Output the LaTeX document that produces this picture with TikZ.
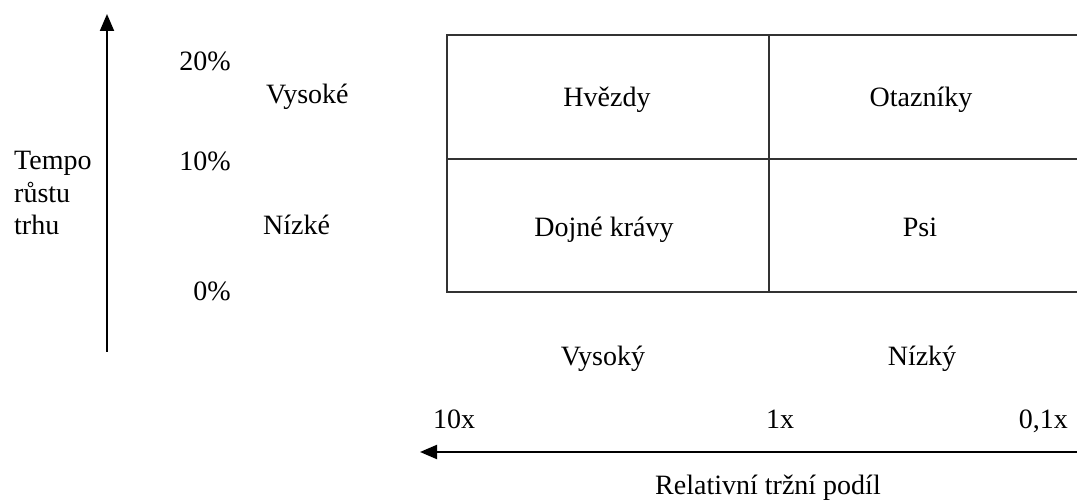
\documentclass[tikz,border=0pt]{standalone}
\usepackage{fontspec}
\setmainfont{Liberation Serif}
\usetikzlibrary{arrows.meta}
\begin{document}
\begin{tikzpicture}[x=1pt,y=-1pt,
  lbl/.style={font=\fontsize{28}{33}\selectfont,inner sep=0pt,anchor=base},
  grid/.style={draw=black!80,line width=1.6pt},
  axis/.style={draw=black,line width=2pt,-{Triangle[length=17pt,width=14pt]}}]
\useasboundingbox (0,0) rectangle (1077,502);
% grid
\coordinate (tl) at (447,35);
\coordinate (tr) at (1077,35);
\coordinate (ml) at (447,159);
\coordinate (mr) at (1077,159);
\coordinate (bl) at (447,292);
\coordinate (br) at (1077,292);
\coordinate (vt) at (769,35);
\coordinate (vb) at (769,292);
\draw[grid] (tr) -- (tl) -- (bl) -- (br);
\draw[grid] (ml) -- (mr);
\draw[grid] (vt) -- (vb);
% axes
\coordinate (ya) at (107,352);
\coordinate (yb) at (107,14);
\draw[axis] (ya) -- (yb);
\coordinate (xa) at (1077,452);
\coordinate (xb) at (420,452);
\draw[axis] (xa) -- (xb);
% left labels
\node[lbl,anchor=base west] (t1) at (14,170) {Tempo};
\node[lbl,anchor=base west] (t2) at (14,203) {růstu};
\node[lbl,anchor=base west] (t3) at (14,235) {trhu};
\node[lbl,anchor=base east] (p20) at (231,71) {20\%};
\node[lbl,anchor=base east] (p10) at (231,171) {10\%};
\node[lbl,anchor=base east] (p0) at (231,301) {0\%};
\node[lbl,anchor=base west] (vys) at (266,104) {Vysoké};
\node[lbl,anchor=base west] (niz) at (263,235) {Nízké};
% cells
\node[lbl] (hv) at (607,107) {Hvězdy};
\node[lbl] (ot) at (921,107) {Otazníky};
\node[lbl] (dk) at (604,237) {Dojné krávy};
\node[lbl] (ps) at (920,237) {Psi};
% bottom labels
\node[lbl] (vysoky) at (603,366) {Vysoký};
\node[lbl] (nizky) at (922,366) {Nízký};
\node[lbl,anchor=base west] (x10) at (433,429) {10x};
\node[lbl] (x1) at (780,429) {1x};
\node[lbl,anchor=base east] (x01) at (1068,429) {0,1x};
\node[lbl] (rel) at (768,495) {Relativní tržní podíl};
\end{tikzpicture}
\end{document}
